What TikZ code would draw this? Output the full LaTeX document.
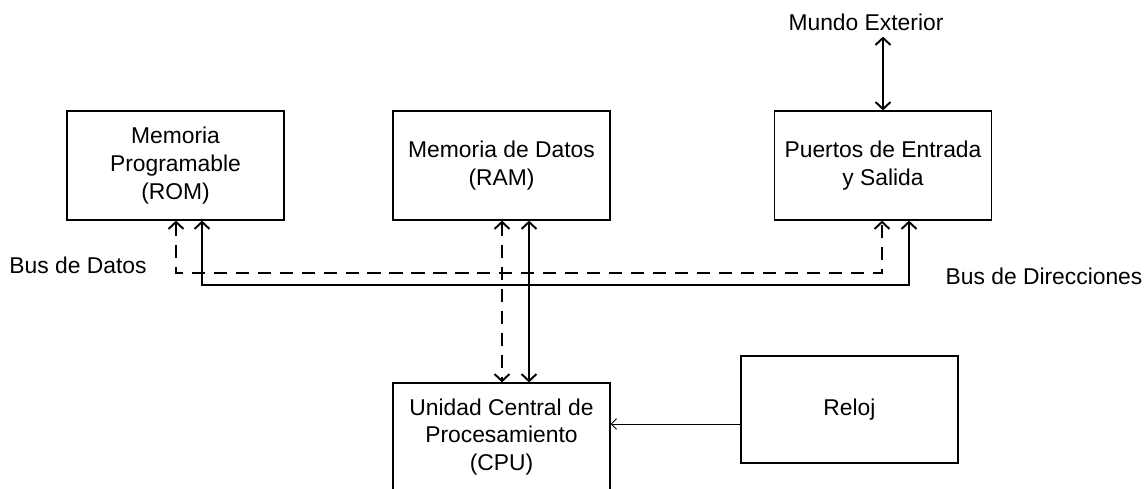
\documentclass[tikz,border=0pt]{standalone}
\usepackage{fontspec}
\setmainfont{Liberation Sans}
\usepackage{tikz}
\usetikzlibrary{positioning,arrows.meta}

\begin{document}
\begin{tikzpicture}[x=0.02cm,y=-0.02cm,
		font=\fontsize{13}{15.8}\selectfont,
		block/.style={draw,line width=0.7pt,align=center,minimum width=4.34cm,minimum height=2.18cm},
		bus/.style={line width=1.1pt,{Straight Barb[length=4pt,width=8.5pt]}-{Straight Barb[length=4pt,width=8.5pt]}},
		dashbus/.style={bus,dash pattern=on 7.5pt off 5pt},
		clkline/.style={line width=0.5pt,-{Straight Barb[length=3pt,width=6pt]}}]
				\useasboundingbox (0,0) rectangle (1146,489);
				% bloques
				\node[block] (rom) at (175.5,165.5) {Memoria\\Programable\\(ROM)};
				\node[block] (ram) at (501.5,165.5) {Memoria de Datos\\(RAM)};
				\node[block] (io) at (883,165.5) {Puertos de Entrada\\y Salida};
				\node[block,minimum height=2.16cm] (cpu) at (501.5,437) {Unidad Central de\\Procesamiento\\(CPU)};
				\node[block,minimum height=2.14cm] (reloj) at (849.5,409.5) {Reloj};
				\node (mundo) at (866,22) {Mundo Exterior};
				\node (datos) at (78,265) {Bus de Datos};
				\node (dir) at (1044,276) {Bus de Direcciones};
				% buses
				\coordinate (dl) at (176,273);
				\coordinate (dr) at (882,273);
				\coordinate (dm) at (502,273);
				\coordinate (al) at (202,285);
				\coordinate (ar) at (909,285);
				\coordinate (am) at (529,285);
				\coordinate (clk) at (741,424);
				\draw[dashbus] (dl |- rom.south) -- (dl) -- (dr) -- (dr |- io.south);
				\draw[bus] (al |- rom.south) -- (al) -- (ar) -- (ar |- io.south);
				\draw[dashbus] (dm |- ram.south) -- (dm |- cpu.north);
				\draw[bus] (am |- ram.south) -- (am |- cpu.north);
				\draw[bus] (io.north) -- (io.north |- mundo.south);
				\draw[clkline] (clk -| reloj.west) -- (clk -| cpu.east);
			\end{tikzpicture}
\end{document}
